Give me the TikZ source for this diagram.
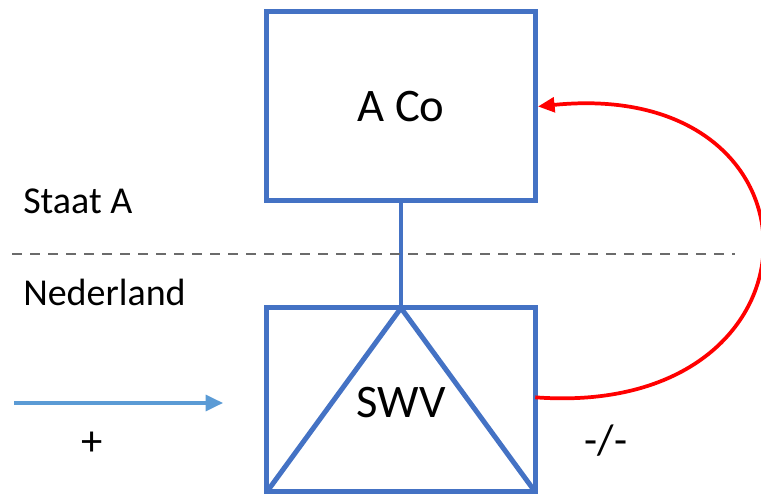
\documentclass[tikz,border=0pt]{standalone}
\usepackage{fontspec}
\setmainfont{Carlito}
\usetikzlibrary{arrows.meta}
\definecolor{boxblue}{HTML}{4472C4}
\definecolor{arrowblue}{HTML}{5B9BD5}
\definecolor{linegray}{HTML}{6B6B6B}

\begin{document}
\begin{tikzpicture}[x=0.75pt,y=-0.75pt,
    box/.style={draw=boxblue,line width=3.75pt,outer sep=0pt,minimum width=201.4pt,
      font=\fontsize{35}{40}\selectfont},
    lbl/.style={inner sep=0pt,font=\fontsize{28.5}{32}\selectfont},
    sign/.style={inner sep=0pt,font=\fontsize{32}{36}\selectfont}]
  \useasboundingbox (0,0) rectangle (761,498);
  \node[box,minimum height=141.75pt] (aco) at (401,106.5) {A Co};
  \node[box,minimum height=138pt] (swv) at (401,400) {};
  \draw[boxblue,line width=3.75pt,line join=round] (swv.south west) -- (swv.north) -- (swv.south east);
  \node[font=\fontsize{35}{40}\selectfont] (swvtext) at (401,403) {SWV};
  \draw[boxblue,line width=2.5pt] (aco.south) -- (swv.north);
  \draw[linegray,line width=1.5pt,dash pattern=on 7.5pt off 6pt] (12,254) -- (735,254);
  \node[lbl,anchor=base west] (staat) at (23,214) {Staat A};
  \node[lbl,anchor=base west] (nl) at (23,306) {Nederland};
  \coordinate (in0) at (14,403);
  \coordinate (in1) at (223,403);
  \draw[arrowblue,line width=2.4pt,-{Triangle[length=13pt,width=12pt]}] (in0) -- (in1);
  \node[sign] (plus) at (92,444) {+};
  \node[sign] (minus) at (606,441) {-/-};
  \draw[red,line width=2.8pt,-{Triangle[length=12.5pt,width=11pt]}]
    ([yshift=2pt]swv.east) .. controls +(300,22) and +(300,-30) .. ([xshift=2pt]aco.east);
\end{tikzpicture}
\end{document}
